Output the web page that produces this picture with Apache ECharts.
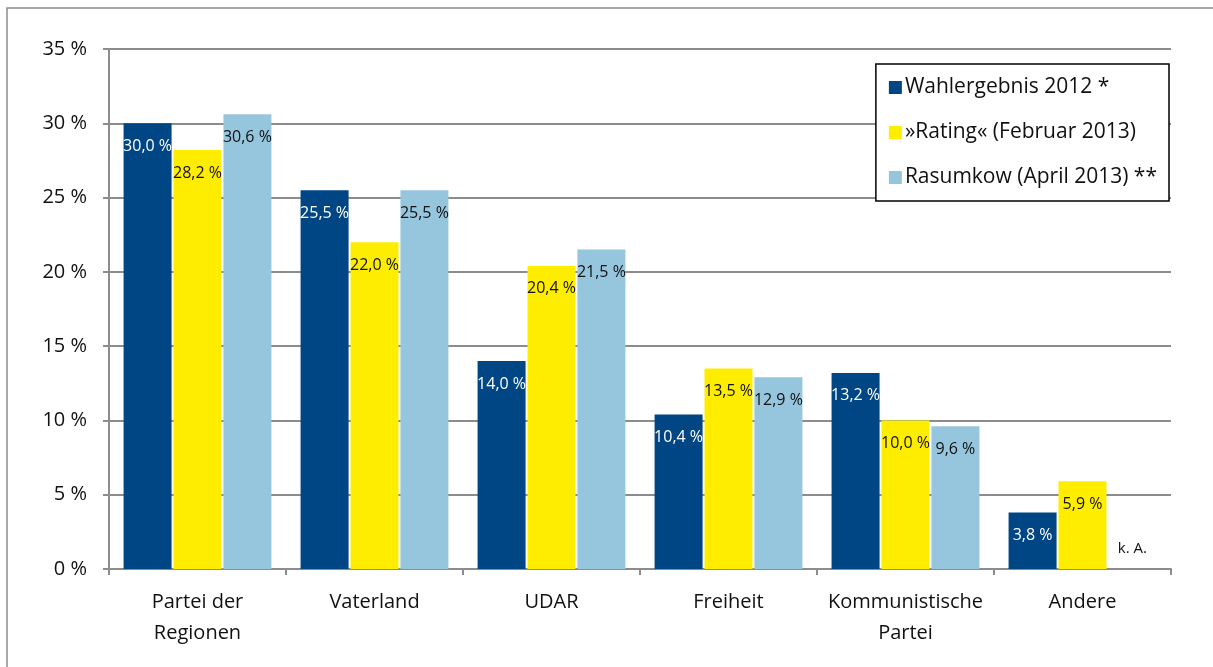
<!DOCTYPE html>
<html>
<head>
<meta charset="utf-8">
<script src="https://cdn.jsdelivr.net/npm/echarts@6/dist/echarts.min.js"></script>
<style>
  html, body { margin: 0; padding: 0; background: #fff; }
  #chart { width: 1213px; height: 667px; }
</style>
</head>
<body>
<div id="chart"></div>
<script>
const parties = ['Partei der\nRegionen', 'Vaterland', 'UDAR', 'Freiheit', 'Kommunistische\nPartei', 'Andere']
const seriesNames = ['Wahlergebnis 2012 *', '»Rating« (Februar 2013)', 'Rasumkow (April 2013) **']
const wahl2012 = [30.0, 25.5, 14.0, 10.4, 13.2, 3.8]
const rating2013 = [28.2, 22.0, 20.4, 13.5, 10.0, 5.9]
const rasumkow2013 = [30.6, 25.5, 21.5, 12.9, 9.6, null]
const noDataText = 'k. A.'
const yTicks = [0, 5, 10, 15, 20, 25, 30, 35]

const colors = ['#004685', '#ffed00', '#96c6dd']
const labelColors = ['#fff', '#111', '#111']
const font = '"Open Sans", "Noto Sans", sans-serif'

const fmt = v => v.toFixed(1).replace('.', ',') + ' %'

const makeSeries = (name, values, i) => ({
  name,
  type: 'bar',
  barWidth: 48,
  barGap: '4%',
  itemStyle: { color: colors[i] },
  label: {
    show: true,
    position: 'insideTop',
    distance: 15,
    color: labelColors[i],
    fontFamily: font,
    fontSize: 16,
    formatter: p => fmt(p.value)
  },
  data: values.map(v => v === null
    ? { value: 0, label: { position: 'top', distance: 13, color: '#111', fontSize: 15, formatter: noDataText } }
    : v)
})

const chart = echarts.init(document.getElementById('chart'))
chart.setOption({
  animation: false,
  graphic: [{
    type: 'rect',
    shape: { x: 7, y: 8, width: 1240, height: 700 },
    style: { fill: 'none', stroke: '#8c8c8c', lineWidth: 1.5 },
    silent: true
  }],
  grid: { left: 109, right: 42, top: 49, bottom: 98 },
  legend: {
    orient: 'vertical',
    right: 44,
    top: 64,
    padding: [13, 12, 13, 13],
    itemGap: 24,
    itemWidth: 13,
    itemHeight: 13,
    backgroundColor: '#fff',
    borderColor: '#000',
    borderWidth: 1.5,
    borderRadius: 0,
    icon: 'rect',
    textStyle: { fontFamily: font, fontSize: 21, color: '#111', padding: [0, 0, 0, -2] },
    data: seriesNames
  },
  xAxis: {
    type: 'category',
    data: parties,
    axisLine: { lineStyle: { color: '#8c8c8c', width: 2 } },
    axisTick: { show: true, length: 6, lineStyle: { color: '#8c8c8c', width: 2 } },
    axisLabel: { fontFamily: font, fontSize: 20, color: '#111', margin: 18, lineHeight: 31, interval: 0 }
  },
  yAxis: {
    type: 'value',
    min: 0,
    max: yTicks[yTicks.length - 1],
    interval: 5,
    axisLine: { show: true, lineStyle: { color: '#8c8c8c', width: 2 } },
    axisTick: { show: true, length: 6, lineStyle: { color: '#8c8c8c', width: 2 } },
    axisLabel: { fontFamily: font, fontSize: 20, color: '#111', margin: 22, formatter: v => v + ' %' },
    splitLine: { lineStyle: { color: '#8c8c8c', width: 2 } }
  },
  series: [
    makeSeries(seriesNames[0], wahl2012, 0),
    makeSeries(seriesNames[1], rating2013, 1),
    makeSeries(seriesNames[2], rasumkow2013, 2)
  ]
})
</script>
</body>
</html>
